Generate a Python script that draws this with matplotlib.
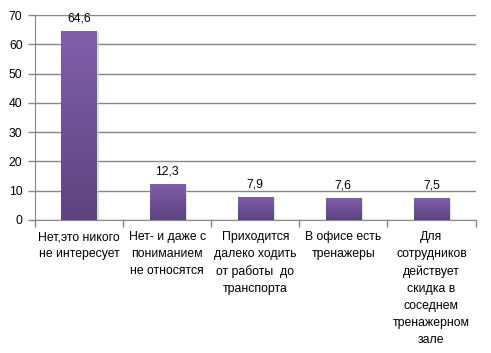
import matplotlib
matplotlib.use("Agg")
import matplotlib.pyplot as plt
import numpy as np
from matplotlib.colors import LinearSegmentedColormap

categories = ["Нет,это никого\nне интересует",
              "Нет- и даже с\nпониманием\nне относятся",
              "Приходится\nдалеко ходить\nот работы  до\nтранспорта",
              "В офисе есть\nтренажеры",
              "Для\nсотрудников\nдействует\nскидка в\nсоседнем\nтренажерном\nзале"]
values = [64.6, 12.3, 7.9, 7.6, 7.5]
labels = ["64,6", "12,3", "7,9", "7,6", "7,5"]
yticks = [0, 10, 20, 30, 40, 50, 60, 70]

plt.rcParams['font.family'] = ['Liberation Sans', 'DejaVu Sans']
fig = plt.figure(figsize=(4.91, 3.53), dpi=100)
ax = fig.add_axes([35/491, 1-220/353, 440.5/491, 205/353])

x = np.arange(len(values))
bw = 0.4
cmap = LinearSegmentedColormap.from_list("g", ["#5d437f", "#8060aa"])
grad = np.linspace(0, 1, 256).reshape(-1, 1)
for xi, v in zip(x, values):
    # shadow
    ax.bar(xi + 0.025, v, bw, bottom=-0.3, color="#c8c8c8", alpha=0.6, zorder=2, linewidth=0)
    b = ax.bar(xi, v, bw, color="none", zorder=3, linewidth=0)[0]
    im = ax.imshow(grad, extent=[xi - bw/2, xi + bw/2, 0, v], origin="lower",
                   cmap=cmap, aspect="auto", zorder=3)
    im.set_clip_path(b)
for xi, v, lab in zip(x, values, labels):
    ax.text(xi, v + 2.2, lab, ha="center", va="bottom", fontsize=8.8, color="black")

ax.set_xlim(-0.5, len(values) - 0.5)
ax.set_ylim(0, 70)
ax.set_yticks(yticks)
ax.set_yticklabels([str(t) for t in yticks], fontsize=8.8)
ax.yaxis.grid(True, color="#878787", linewidth=1)
ax.set_axisbelow(True)
ax.set_xticks(x)
ax.set_xticklabels(categories, fontsize=8.8, linespacing=1.55, va="top")
ax.tick_params(axis="x", length=0, pad=8)
ax.set_xticks(np.arange(-0.5, len(values), 1), minor=True)
ax.tick_params(axis="x", which="minor", length=5, color="#878787", width=1)
ax.tick_params(axis="y", length=5, color="#878787", width=1, pad=4)
for s in ["top", "right"]:
    ax.spines[s].set_visible(False)
for s in ["left", "bottom"]:
    ax.spines[s].set_color("#878787")
fig.savefig("out.png", dpi=100)
